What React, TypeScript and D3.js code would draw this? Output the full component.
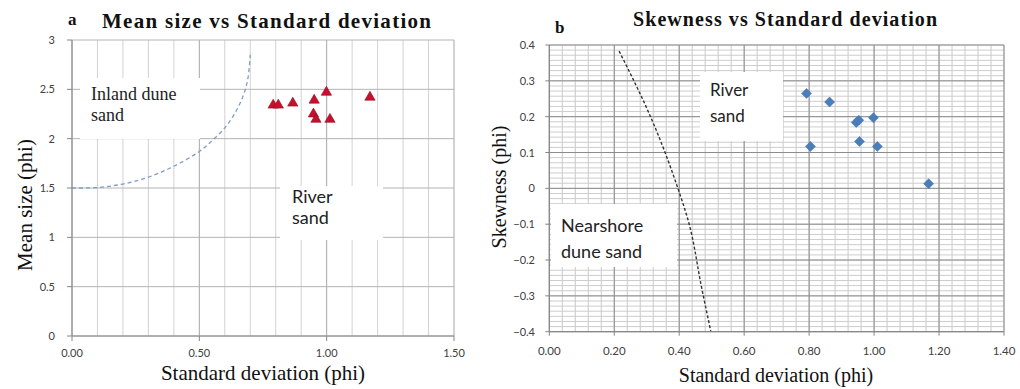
import * as d3 from "d3";

// panel a: mean size vs standard deviation (phi)
const sortingA = [0.79, 0.81, 0.867, 0.951, 0.999, 1.17, 0.948, 0.958, 1.013];
const meanSize = [2.34, 2.34, 2.36, 2.39, 2.47, 2.42, 2.25, 2.196, 2.196];
// dashed boundary "inland dune" vs "river"
const boundaryAx = [0, 0.1, 0.2, 0.3, 0.4, 0.5, 0.55, 0.6, 0.64, 0.67, 0.69, 0.7];
const boundaryAy = [1.5, 1.505, 1.54, 1.61, 1.72, 1.87, 1.98, 2.11, 2.26, 2.42, 2.6, 2.85];
const ticksAx = [0, 0.5, 1, 1.5];
const ticksAy = [0, 0.5, 1, 1.5, 2, 2.5, 3];

// panel b: skewness vs standard deviation (phi)
const sortingB = [0.792, 0.804, 0.863, 0.945, 0.953, 0.955, 0.998, 1.01, 1.168];
const skewness = [0.265, 0.117, 0.241, 0.184, 0.19, 0.131, 0.197, 0.117, 0.013];
const boundaryBx = [0.215, 0.315, 0.396, 0.428, 0.469, 0.497];
const boundaryBy = [0.383, 0.193, 0, -0.091, -0.277, -0.398];
const ticksBx = [0, 0.2, 0.4, 0.6, 0.8, 1.0, 1.2, 1.4];
const ticksBy = [-0.4, -0.3, -0.2, -0.1, 0, 0.1, 0.2, 0.3, 0.4];

const SERIF = "'Liberation Serif', 'Times New Roman', serif";
const SANS = "Lato, 'Noto Sans', sans-serif";
const TICK_COLOR = "#404040";
const AXIS_COLOR = "#868686";

function PanelA() {
  const x = d3.scaleLinear().domain([0, 1.5]).range([72, 454]);
  const y = d3.scaleLinear().domain([0, 3]).range([336, 40]);

  const vLines = d3.range(0, 16).map(i => i / 10);
  const line = d3
    .line<number>()
    .x((d, i) => x(boundaryAx[i]))
    .y(d => y(d))
    .curve(d3.curveCatmullRom.alpha(0.5));
  const tri = d3.symbol(d3.symbolTriangle, 46)();

  return (
    <g>
      {/* grid */}
      {vLines.map((v, i) => (
        <line key={"v" + i} x1={x(v)} x2={x(v)} y1={y(3)} y2={y(0)}
          stroke={i % 5 === 0 ? "#a6a6a6" : "#d2d2d2"} strokeWidth={1} />
      ))}
      {ticksAy.map(v => (
        <line key={"h" + v} x1={x(0)} x2={x(1.5)} y1={y(v)} y2={y(v)} stroke="#b4b4b4" strokeWidth={1} />
      ))}

      {/* axes */}
      <line x1={x(0)} x2={x(0)} y1={y(3)} y2={y(0)} stroke={AXIS_COLOR} />
      <line x1={x(0)} x2={x(1.5)} y1={y(0)} y2={y(0)} stroke={AXIS_COLOR} />
      {ticksAy.map(v => (
        <g key={"ty" + v}>
          <line x1={x(0) - 5} x2={x(0)} y1={y(v)} y2={y(v)} stroke={AXIS_COLOR} />
          <text x={55} y={y(v) + 4} textAnchor="end" fontFamily={SANS} fontSize={11} fill={TICK_COLOR}>{v}</text>
        </g>
      ))}
      {ticksAx.map(v => (
        <g key={"tx" + v}>
          <line x1={x(v)} x2={x(v)} y1={y(0)} y2={y(0) + 5} stroke={AXIS_COLOR} />
          <text x={x(v)} y={357} textAnchor="middle" fontFamily={SANS} fontSize={11} fill={TICK_COLOR}>{v.toFixed(2)}</text>
        </g>
      ))}

      {/* region labels */}
      <rect x={80} y={78} width={120} height={61} fill="#fff" />
      <text fontFamily={SERIF} fontSize={18} fill="#222">
        <tspan x={91} y={100}>Inland dune</tspan>
        <tspan x={91} y={121}>sand</tspan>
      </text>
      <rect x={280} y={186} width={103} height={54} fill="#fff" />
      <text fontFamily={SANS} fontSize={18} fill="#222">
        <tspan x={292} y={203}>River</tspan>
        <tspan x={292} y={224}>sand</tspan>
      </text>

      {/* boundary */}
      <path d={line(boundaryAy) || ""} fill="none" stroke="#7f9cc6" strokeWidth={1.3} strokeDasharray="4,3" />

      {/* samples */}
      {sortingA.map((s, i) => (
        <path key={"p" + i} d={tri || ""} transform={`translate(${x(s)},${y(meanSize[i])})`}
          fill="#c8102e" stroke="#8e0a1e" strokeWidth={0.6} />
      ))}

      {/* titles */}
      <text x={68} y={25} fontFamily={SERIF} fontWeight="bold" fontSize={17} fill="#111">a</text>
      <text x={102} y={28} fontFamily={SERIF} fontWeight="bold" fontSize={21} fill="#111"
        textLength={329} lengthAdjust="spacing">Mean size vs Standard deviation</text>
      <text x={263} y={380} textAnchor="middle" fontFamily={SERIF} fontSize={21} fill="#111">Standard deviation (phi)</text>
      <text transform="translate(32,205) rotate(-90)" textAnchor="middle" fontFamily={SERIF} fontSize={21} fill="#111">Mean size (phi)</text>
    </g>
  );
}

function PanelB() {
  const x = d3.scaleLinear().domain([0, 1.4]).range([549.3, 1004]);
  const y = d3.scaleLinear().domain([-0.4, 0.4]).range([331.7, 45]);

  const vLines = d3.range(0, 36).map(i => i * 0.04);
  const hLines = d3.range(0, 57).map(i => -0.4 + (i * 0.1) / 7);
  const line = d3
    .line<number>()
    .x((d, i) => x(boundaryBx[i]))
    .y(d => y(d))
    .curve(d3.curveMonotoneY);
  const sq = d3.symbol(d3.symbolSquare, 50)();

  return (
    <g>
      {/* minor grid */}
      {vLines.map((v, i) => (
        <line key={"v" + i} x1={x(v)} x2={x(v)} y1={y(0.4)} y2={y(-0.4)}
          stroke="#c9c9c9" strokeWidth={1} />
      ))}
      {hLines.map((v, i) => (
        <line key={"h" + i} x1={x(0)} x2={x(1.4)} y1={y(v)} y2={y(v)}
          stroke="#cdcdcd" strokeWidth={1} />
      ))}
      {/* major grid */}
      {ticksBx.map(v => (
        <line key={"V" + v} x1={x(v)} x2={x(v)} y1={y(0.4)} y2={y(-0.4)} stroke="#8c8c8c" strokeWidth={1} />
      ))}
      {ticksBy.map(v => (
        <line key={"H" + v} x1={x(0)} x2={x(1.4)} y1={y(v)} y2={y(v)} stroke="#8c8c8c" strokeWidth={1} />
      ))}

      {/* axes */}
      <line x1={x(0)} x2={x(0)} y1={y(0.4)} y2={y(-0.4)} stroke={AXIS_COLOR} />
      <line x1={x(0)} x2={x(1.4)} y1={y(-0.4)} y2={y(-0.4)} stroke={AXIS_COLOR} />
      {ticksBy.map(v => (
        <g key={"ty" + v}>
          <line x1={x(0) - 4} x2={x(0)} y1={y(v)} y2={y(v)} stroke={AXIS_COLOR} />
          <text x={535} y={y(v) + 4} textAnchor="end" fontFamily={SANS} fontSize={11} fill={TICK_COLOR}>{d3.format(".1~f")(v)}</text>
        </g>
      ))}
      {ticksBx.map(v => (
        <g key={"tx" + v}>
          <line x1={x(v)} x2={x(v)} y1={y(-0.4)} y2={y(-0.4) + 4} stroke={AXIS_COLOR} />
          <text x={x(v)} y={355} textAnchor="middle" fontFamily={SANS} fontSize={11.5} fill={TICK_COLOR}>{v.toFixed(2)}</text>
        </g>
      ))}

      {/* region labels */}
      <rect x={700} y={72} width={83} height={69} fill="#fff" />
      <text fontFamily={SANS} fontSize={17} fill="#222">
        <tspan x={710} y={96}>River</tspan>
        <tspan x={710} y={122}>sand</tspan>
      </text>
      <rect x={551} y={204} width={126} height={63} fill="#fff" />
      <text fontFamily={SANS} fontSize={18} fill="#222">
        <tspan x={561} y={232}>Nearshore</tspan>
        <tspan x={561} y={258}>dune sand</tspan>
      </text>

      {/* boundary */}
      <path d={line(boundaryBy) || ""} fill="none" stroke="#333" strokeWidth={1.4} strokeDasharray="3,2" />

      {/* samples */}
      {sortingB.map((s, i) => (
        <path key={"p" + i} d={sq || ""} transform={`translate(${x(s)},${y(skewness[i])}) rotate(45)`}
          fill="#4a7ebb" stroke="#3f6fa8" strokeWidth={0.5} />
      ))}

      {/* titles */}
      <text x={555} y={33} fontFamily={SERIF} fontWeight="bold" fontSize={17} fill="#111">b</text>
      <text x={633} y={26} fontFamily={SERIF} fontWeight="bold" fontSize={20} fill="#111"
        textLength={304} lengthAdjust="spacing">Skewness vs Standard deviation</text>
      <text x={776} y={382} textAnchor="middle" fontFamily={SERIF} fontSize={20} fill="#111">Standard deviation (phi)</text>
      <text transform="translate(506,187) rotate(-90)" textAnchor="middle" fontFamily={SERIF} fontSize={20} fill="#111">Skewness (phi)</text>
    </g>
  );
}

export default function App() {
  return (
    <svg width={1020} height={389} viewBox="0 0 1020 389"
      style={{ position: "absolute", left: 0, top: 0, background: "#fff" }}>
      <rect width={1020} height={389} fill="#fff" />
      <PanelA />
      <PanelB />
    </svg>
  );
}
